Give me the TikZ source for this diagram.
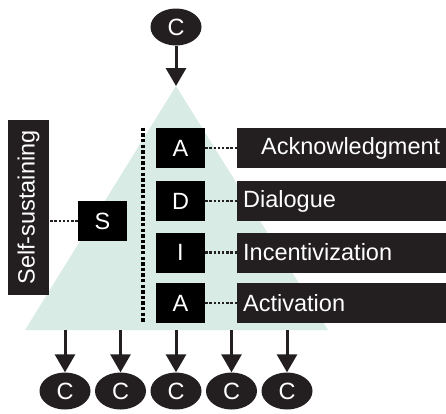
\documentclass[tikz,border=0pt]{standalone}
\usepackage{fontspec}
\setmainfont{Liberation Sans}
\usetikzlibrary{arrows.meta, shapes.geometric, calc}

\definecolor{ink}{HTML}{231F20}
\definecolor{pyramid}{HTML}{D8EBE4}

\tikzset{
  txt/.style={font=\fontsize{23.5bp}{28bp}\selectfont, text=white},
  cnode/.style={txt, ellipse, fill=ink, inner sep=0pt, minimum width=51bp, minimum height=37bp},
  letterbox/.style={txt, rectangle, fill=black, inner sep=0pt, minimum width=49bp, minimum height=40bp},
  labelbox/.style={txt, rectangle, fill=ink, anchor=west, inner sep=6bp, text width=197bp, minimum height=40bp, align=left},
  arr/.style={line width=3bp, draw=ink, -{Triangle[length=18bp,width=20bp]}},
  dotline/.style={line width=3.6bp, draw=black, dash pattern=on 3.4bp off 2.2bp},
  smalldots/.style={line width=2.6bp, draw=ink, dash pattern=on 2.4bp off 1.8bp}
}

\begin{document}
\begin{tikzpicture}[x=1bp, y=-1bp]
  \useasboundingbox (0,0) rectangle (446,413);

  % pyramid
  \coordinate (apex) at (176,86);
  \coordinate (base) at (0,330);
  \fill[pyramid] (apex) -- (328,330) -- (25,330) -- cycle;

  % top and bottom C nodes
  \node[cnode] (topc) at (176,27) {C};
  \foreach \i/\x in {1/65, 2/120.5, 3/176, 4/231.5, 5/287} {
    \node[cnode] (c\i) at (\x,391) {C};
  }

  % steps
  \node[letterbox] (la) at (180.5,148) {A};
  \node[letterbox] (ld) at (180.5,201) {D};
  \node[letterbox] (li) at (180.5,252.5) {I};
  \node[letterbox] (lact) at (180.5,303) {A};

  \node[labelbox, align=right] (tack) at (237,148) {Acknowledgment};
  \node[labelbox] (tdia) at (237,201) {Dialogue};
  \node[labelbox] (tinc) at (237,252.5) {Incentivization};
  \node[labelbox] (tact) at (237,303) {Activation};

  % self-sustaining
  \node[txt, rectangle, fill=ink, rotate=90, inner sep=0pt, minimum width=175bp, minimum height=41bp] (self) at (28.5,207.5) {Self-sustaining};
  \node[letterbox] (sbox) at (102.5,221) {S};

  % connectors
  \draw[arr] (topc.south) -- (apex);
  \foreach \i in {1,...,5} {
    \draw[arr] (c\i.north |- base) -- (c\i.north);
  }
  \draw[dotline] ([xshift=-13bp]la.north west) -- ([xshift=-13bp]lact.south west);
  \draw[smalldots] (sbox.west) -- (sbox.west -| self.south);
  \draw[smalldots] (la.east) -- (tack.west);
  \draw[smalldots] (ld.east) -- (tdia.west);
  \draw[smalldots] (li.east) -- (tinc.west);
  \draw[smalldots] (lact.east) -- (tact.west);
\end{tikzpicture}
\end{document}
